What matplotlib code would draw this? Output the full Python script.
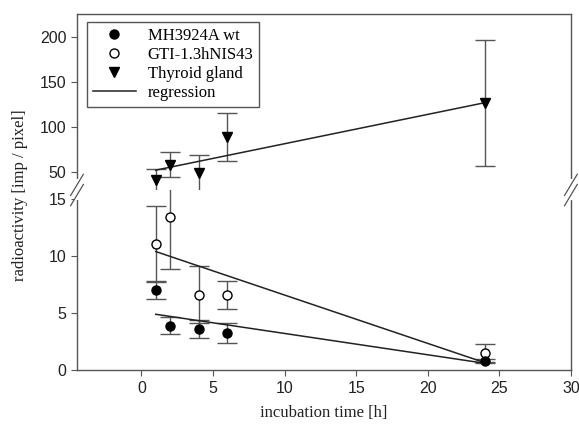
import matplotlib.pyplot as plt
from matplotlib.lines import Line2D
import numpy as np

time_h = [1, 2, 4, 6, 24]

wt_mean = [7.0, 3.9, 3.6, 3.25, 0.8]
wt_err = [0.75, 0.75, 0.8, 0.85, 0.2]

gti_mean = [11.1, 13.4, 6.6, 6.6, 1.5]
gti_err = [3.3, 4.5, 2.5, 1.25, 0.8]

thyroid_mean = [41, 58, 49, 89, 127]
thyroid_err = [12, 14, 20, 27, 70]

# regression lines (start, end)
reg_x = [1, 24]
wt_reg = [4.9, 0.6]
gti_reg = [10.4, 0.65]
thyroid_reg = [52, 127]

dark = "#222222"
grey = "#555555"

fig = plt.figure(figsize=(5.79, 4.24), dpi=100)
left, width = 0.133, 0.853
ax_top = fig.add_axes([left, 0.552, width, 0.415])
ax_bot = fig.add_axes([left, 0.127, width, 0.425], sharex=ax_top)

ekw = dict(ecolor=grey, elinewidth=1, capsize=7.5, capthick=1, linestyle="none")

ax_top.errorbar(time_h, thyroid_mean, yerr=thyroid_err, fmt="v", color="black",
                markersize=7, **ekw)
ax_top.plot(reg_x, thyroid_reg, color=dark, lw=1.1)

ax_bot.errorbar(time_h, gti_mean, yerr=gti_err, fmt="o", mfc="white", mec="black",
                color="black", markersize=6.5, mew=1, **ekw)
ax_bot.errorbar(time_h, wt_mean, yerr=wt_err, fmt="o", color="black",
                markersize=6.5, **ekw)
ax_bot.plot(reg_x, wt_reg, color=dark, lw=1.1)
ax_bot.plot(reg_x, gti_reg, color=dark, lw=1.1)

ax_top.set_ylim(30, 225.5)
ax_bot.set_ylim(0, 15.8)
ax_bot.set_xlim(-4.5, 30)
ax_top.set_yticks([50, 100, 150, 200])
ax_bot.set_yticks([0, 5, 10, 15])
ax_bot.set_xticks([0, 5, 10, 15, 20, 25, 30])

for ax in (ax_top, ax_bot):
    for s in ax.spines.values():
        s.set_color(grey)
        s.set_linewidth(1)
    ax.tick_params(direction="out", color=grey, length=4, labelsize=11.5,
                   labelcolor="#222222")
    for lab in ax.get_yticklabels() + ax.get_xticklabels():
        lab.set_family("Liberation Sans")

ax_top.spines["bottom"].set_visible(False)
ax_bot.spines["top"].set_visible(False)
ax_top.tick_params(axis="x", bottom=False, labelbottom=False)

# axis break marks
yb = 0.552
for xb in (left, left + width):
    fig.add_artist(Line2D([xb, xb], [yb - 0.02, yb + 0.02], color="white", lw=3,
                          transform=fig.transFigure))
    for dy in (-0.012, 0.012):
        fig.add_artist(Line2D([xb - 0.011, xb + 0.011], [yb + dy - 0.025, yb + dy + 0.025],
                              color=grey, lw=0.9, transform=fig.transFigure))

serif = "Liberation Serif"
fig.text(0.035, 0.54, "radioactivity [imp / pixel]", rotation=90, ha="center",
         va="center", family=serif, fontsize=12, color="#222222")
ax_bot.set_xlabel("incubation time [h]", family=serif, fontsize=12, color="#222222",
                  labelpad=7)

handles = [
    Line2D([], [], marker="o", color="black", ls="none", markersize=6.5),
    Line2D([], [], marker="o", mfc="white", mec="black", ls="none", markersize=6.5),
    Line2D([], [], marker="v", color="black", ls="none", markersize=7),
    Line2D([], [], color=dark, lw=1.1),
]
labels = ["MH3924A wt", "GTI-1.3hNIS43", "Thyroid gland", "regression"]
leg = ax_top.legend(handles, labels, loc="upper left", bbox_to_anchor=(0.02, 0.955),
                    prop={"family": serif, "size": 12}, fancybox=False,
                    edgecolor=grey, framealpha=1, borderpad=0.35, labelspacing=0.18,
                    handlelength=2.6, handletextpad=0.7, borderaxespad=0)
leg.get_frame().set_linewidth(1)

fig.savefig("out.png", dpi=100)
